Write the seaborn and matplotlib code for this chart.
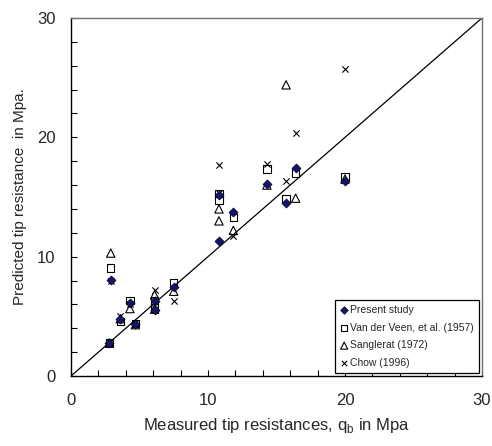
import numpy as np
import pandas as pd
import matplotlib
matplotlib.use("Agg")
import matplotlib.pyplot as plt
import matplotlib.font_manager as fm
import seaborn as sns
from matplotlib.ticker import MultipleLocator

# ---- data ----
measured = [2.8, 2.9, 3.6, 4.3, 4.7, 6.1, 6.1, 7.5, 10.8, 10.8, 11.85, 14.3, 15.7, 16.4, 20.0]
present_study = [2.8, 8.05, 4.75, 6.1, 4.35, 6.25, 5.5, 7.5, 15.2, 11.35, 13.75, 16.1, 14.5, 17.4, 16.3]
van_der_veen = [2.8, 9.05, 4.55, 6.35, 4.4, 6.35, 5.7, 7.85, 15.3, 14.7, 13.3, 17.35, 14.85, 17.0, 16.7]
sanglerat = [2.75, 10.3, 4.8, 5.65, 4.3, 6.8, 5.6, 7.1, 14.0, 13.0, 12.2, 16.0, 24.4, 14.9, 16.5]
chow = [2.8, 8.0, 5.0, 6.0, 4.4, 7.2, 5.6, 6.3, 17.7, 15.3, 11.75, 17.8, 16.35, 20.4, 25.7]
series_names = ["Present study", "Van der Veen, et al. (1957)", "Sanglerat (1972)", "Chow (1996)"]
axis_ticks = [0, 10, 20, 30]

# avoid the condensed "Narrow" variant being chosen for Liberation Sans
fm.fontManager.ttflist = [f for f in fm.fontManager.ttflist if "Narrow" not in f.fname]
if hasattr(fm.fontManager, "_findfont_cached"):
    fm.fontManager._findfont_cached.cache_clear()

sns.set_theme(style="white")
plt.rcParams["font.family"] = ["Liberation Sans", "DejaVu Sans"]

fig = plt.figure(figsize=(4.92, 4.46), dpi=100)
ax = fig.add_axes([71/492, 70/446, 411/492, 358/446])

# 1:1 line
ax.plot([0, 30], [0, 30], color="black", lw=0.9, zorder=1)

sns.scatterplot(x=measured, y=van_der_veen, ax=ax, marker="s", s=28,
                facecolor="none", edgecolor="black", linewidth=0.8,
                label=series_names[1], zorder=2)
sns.scatterplot(x=measured, y=sanglerat, ax=ax, marker="^", s=36,
                facecolor="none", edgecolor="black", linewidth=0.8,
                label=series_names[2], zorder=2)
sns.scatterplot(x=measured, y=chow, ax=ax, marker="x", s=20,
                color="black", linewidth=0.8,
                label=series_names[3], zorder=2)
sns.scatterplot(x=measured, y=present_study, ax=ax, marker="D", s=22,
                color="#14146e", edgecolor="black", linewidth=0.4,
                label=series_names[0], zorder=3)

ax.set_xlim(0, 30)
ax.set_ylim(0, 30)
ax.set_xticks(axis_ticks)
ax.set_yticks(axis_ticks)
ax.xaxis.set_minor_locator(MultipleLocator(2))
ax.yaxis.set_minor_locator(MultipleLocator(2))
ax.tick_params(which="both", direction="in", length=4, width=0.8, color="black",
               bottom=True, left=True, top=False, right=False)
ax.tick_params(axis="x", which="major", pad=12, labelsize=12)
ax.tick_params(axis="y", which="major", pad=11, labelsize=12)

for side in ["left", "bottom"]:
    ax.spines[side].set_color("black")
    ax.spines[side].set_linewidth(1.0)
for side in ["top", "right"]:
    ax.spines[side].set_color("#707070")
    ax.spines[side].set_linewidth(1.0)

ax.set_xlabel(r"Measured tip resistances, q$_\mathregular{b}$ in Mpa", fontsize=12, labelpad=6)
ax.set_ylabel("Predicted tip resistance  in Mpa.", fontsize=11, labelpad=7)

handles, labels = ax.get_legend_handles_labels()
order = [labels.index(n) for n in series_names]
leg = ax.legend([handles[i] for i in order], [labels[i] for i in order],
                loc="lower right", bbox_to_anchor=(1.0, 0.0),
                fontsize=7.5, frameon=True, fancybox=False, shadow=False,
                edgecolor="black", framealpha=1, borderpad=0.5,
                labelspacing=0.75, handletextpad=0.2, handlelength=0.8,
                markerscale=0.85, borderaxespad=0.25)
leg.get_frame().set_linewidth(0.9)

fig.savefig("out.png", dpi=100)
